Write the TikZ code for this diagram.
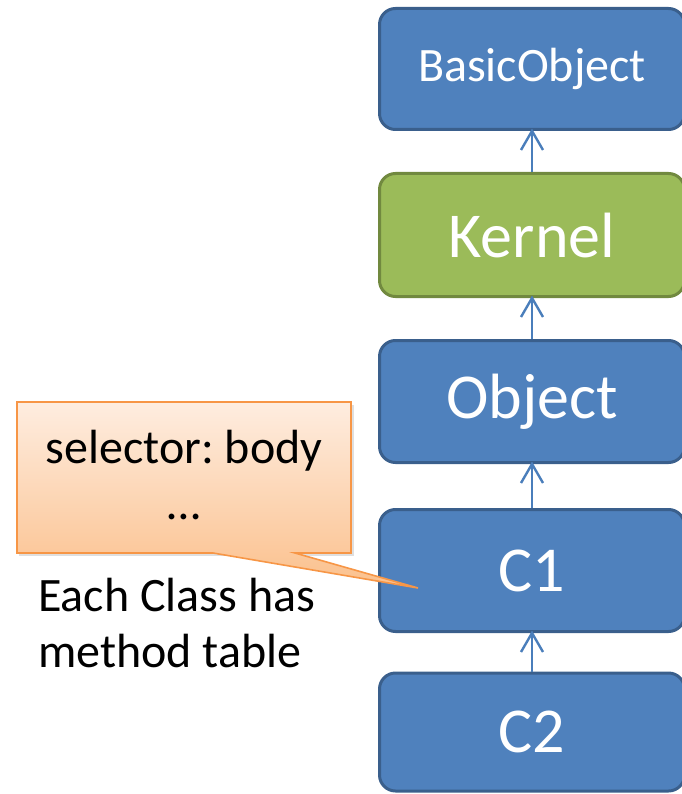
\documentclass[tikz,border=0pt]{standalone}
\usepackage{fontspec}
\setmainfont{Carlito}
\usetikzlibrary{arrows.meta,shadows}
\frenchspacing
\definecolor{bfill}{HTML}{4F81BD}
\definecolor{bdraw}{HTML}{3A5F8C}
\definecolor{gfill}{HTML}{9BBB59}
\definecolor{gdraw}{HTML}{71893F}
\definecolor{arrowc}{HTML}{4A7EBB}
\definecolor{ctop}{HTML}{FEEDE0}
\definecolor{cbot}{HTML}{FBC08C}
\definecolor{cdraw}{HTML}{F79646}
\tikzset{
  cls/.style={draw=bdraw, fill=bfill, line width=3pt, rounded corners=16pt,
    minimum width=305pt, minimum height=120pt, text=white, inner sep=0pt},
  grn/.style={cls, draw=gdraw, fill=gfill},
  inh/.style={draw=arrowc, line width=2.4pt},
  barb/.style={draw=arrowc, line width=2.4pt, line join=miter},
  small/.style={font=\fontsize{48}{56}\selectfont},
  big/.style={font=\fontsize{64}{72}\selectfont},
}
\newcommand\inharrow[2]{%
  \draw[inh] (#1.north) -- (#2.south);
  \draw[barb] (#2.south) ++(-11,19) -- ++(11,-19) -- ++(11,19);
}
\begin{document}
\begin{tikzpicture}[x=1pt,y=-1pt]
\useasboundingbox (0,0) rectangle (681,794);
\node[cls, small, minimum height=121pt] (bo) at (532,69) {BasicObject};
\node[grn, big, minimum height=123pt] (kernel) at (532,235) {Kernel};
\node[cls, big, minimum height=122pt] (object) at (532,401.5) {Object};
\node[cls, big, minimum height=122pt] (c1) at (532,570.5) {C1};
\node[cls, big, minimum height=118pt] (c2) at (532,732) {C2};
\inharrow{kernel}{bo}
\inharrow{object}{kernel}
\inharrow{c1}{object}
\inharrow{c2}{c1}
% callout
\coordinate (tip) at (418,588);
\fill[black!25, opacity=0.5] (19,405) -- (354,405) -- (354,556) -- (19,556) -- cycle;
\shade[top color=ctop, bottom color=cbot, draw=cdraw, line width=1.6pt, line join=miter]
  (17,402) -- (351,402) -- (351,553) -- (295,553) -- (tip) -- (213,553) -- (17,553) -- cycle;
\node[small] (sel) at (184,451) {selector: body};
\node[small] (dots) at (184,517) {…};
\node[small, align=left, anchor=north west, inner sep=0pt] (note) at (38,578) {Each Class has\\method table};
\end{tikzpicture}
\end{document}
